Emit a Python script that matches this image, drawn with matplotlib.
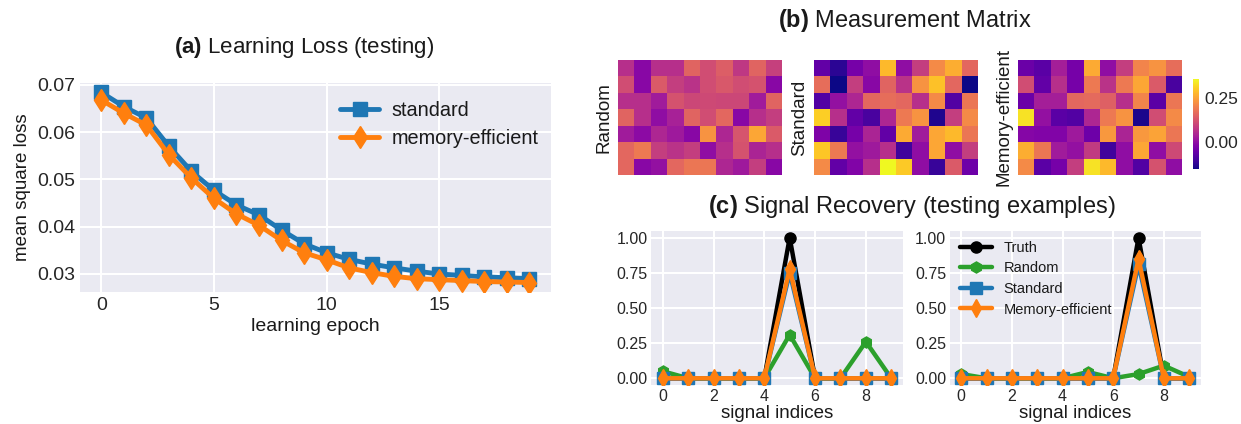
import numpy as np
import matplotlib
matplotlib.use("Agg")
import matplotlib.pyplot as plt

# ---------------------------------------------------------------- data
epochs = list(range(20))
loss_standard = [0.0684, 0.0654, 0.0630, 0.0570, 0.0517, 0.0477, 0.0446, 0.0425,
                 0.0393, 0.0364, 0.0345, 0.0331, 0.0321, 0.0313, 0.0306, 0.0300,
                 0.0297, 0.0294, 0.0292, 0.0290]
loss_memory = [0.0668, 0.0640, 0.0615, 0.0552, 0.0503, 0.0460, 0.0427, 0.0403,
               0.0371, 0.0345, 0.0330, 0.0313, 0.0303, 0.0295, 0.0290, 0.0288,
               0.0286, 0.0284, 0.0283, 0.0282]

matrix_random = [
    [0.060, -0.012, 0.060, 0.060, 0.152, 0.111, 0.141, 0.075, 0.152, 0.090],
    [0.111, -0.012, 0.136, 0.085, 0.065, 0.111, 0.131, 0.111, 0.121, -0.012],
    [0.060, 0.060, 0.024, 0.121, 0.101, 0.106, 0.101, 0.101, 0.024, 0.152],
    [0.152, 0.060, -0.002, 0.034, 0.152, 0.111, 0.157, -0.012, 0.060, 0.085],
    [0.024, -0.007, 0.044, 0.019, -0.012, 0.228, 0.044, 0.126, 0.254, 0.136],
    [0.157, 0.187, 0.085, 0.065, 0.085, -0.002, 0.060, 0.121, 0.039, 0.060],
    [0.157, -0.012, 0.003, 0.157, 0.182, 0.182, 0.044, 0.019, 0.085, -0.012],
]
matrix_standard = [
    [-0.063, -0.129, -0.037, -0.002, 0.279, -0.002, 0.085, 0.213, 0.264, 0.157],
    [0.167, -0.155, 0.085, -0.012, 0.152, 0.065, 0.228, 0.290, 0.157, -0.155],
    [-0.083, 0.003, 0.044, 0.157, 0.167, 0.157, 0.060, 0.213, -0.083, 0.182],
    [0.305, 0.060, -0.063, -0.094, 0.044, 0.187, 0.228, -0.140, 0.085, 0.213],
    [-0.027, -0.114, -0.037, 0.039, -0.063, 0.259, 0.024, 0.254, 0.279, 0.182],
    [0.295, 0.187, 0.003, 0.019, 0.060, -0.104, -0.002, 0.254, -0.002, 0.085],
    [0.213, -0.063, -0.022, 0.060, 0.356, 0.300, -0.002, -0.114, 0.136, -0.048],
]
matrix_memory = [
    [-0.053, -0.073, 0.029, -0.037, 0.259, -0.002, 0.085, 0.203, 0.228, 0.167],
    [0.111, -0.063, 0.060, -0.037, 0.187, 0.065, 0.187, 0.254, 0.136, -0.094],
    [-0.053, 0.029, 0.029, 0.157, 0.162, 0.146, 0.060, 0.203, -0.073, 0.182],
    [0.330, 0.003, -0.073, -0.083, 0.044, 0.187, 0.228, -0.145, 0.111, 0.213],
    [-0.017, -0.022, -0.022, 0.019, -0.048, 0.233, 0.039, 0.233, 0.249, 0.182],
    [0.264, 0.182, 0.024, 0.003, 0.080, -0.104, -0.002, 0.254, -0.002, 0.106],
    [0.213, -0.073, -0.037, 0.085, 0.330, 0.279, -0.002, -0.083, 0.121, -0.002],
]
matrix_names = ["Random", "Standard", "Memory-efficient"]

signal_idx = list(range(10))
ex1_truth = [0, 0, 0, 0, 0, 1.0, 0, 0, 0, 0]
ex1_random = [0.05, 0.0, 0.0, 0.0, 0.0, 0.31, 0.0, 0.0, 0.26, 0.0]
ex1_standard = [0, 0, 0, 0, 0, 0.75, 0, 0, 0, 0]
ex1_memory = [0, 0, 0, 0, 0, 0.78, 0, 0, 0, 0]
ex2_truth = [0, 0, 0, 0, 0, 0, 0, 1.0, 0, 0]
ex2_random = [0.03, 0.0, 0.0, 0.0, 0.0, 0.045, 0.0, 0.03, 0.09, 0.01]
ex2_standard = [0, 0, 0, 0, 0, 0, 0, 0.81, 0, 0]
ex2_memory = [0, 0, 0, 0, 0, 0, 0, 0.85, 0, 0]

# ---------------------------------------------------------------- style
plt.style.use("seaborn-v0_8-darkgrid")
plt.rcParams["font.family"] = ["Liberation Sans", "DejaVu Sans"]
plt.rcParams["mathtext.fontset"] = "custom"
plt.rcParams["mathtext.rm"] = "Liberation Sans"
plt.rcParams["mathtext.bf"] = "Liberation Sans:bold"
plt.rcParams["text.color"] = "#1a1a1a"
plt.rcParams["axes.labelcolor"] = "#1a1a1a"
plt.rcParams["xtick.color"] = "#262626"
plt.rcParams["ytick.color"] = "#262626"
plt.rcParams["grid.linewidth"] = 1.5

BLUE, ORANGE, GREEN = "#1f77b4", "#ff7f0e", "#2ca02c"

W, H = 1241, 424
fig = plt.figure(figsize=(W / 100, H / 100), dpi=100)


def axes_px(left, top, right, bottom):
    return fig.add_axes([left / W, 1 - bottom / H, (right - left) / W, (bottom - top) / H])


# ---------------------------------------------------------------- (a) loss curves
ax = axes_px(80, 83, 550.6, 292)
ax.plot(epochs, loss_standard, color=BLUE, lw=3.5, marker="s", ms=10.5, label="standard")
ax.plot(epochs, loss_memory, color=ORANGE, lw=3.5, marker="d", ms=11.5, label="memory-efficient")
ax.set_xticks([0, 5, 10, 15])
ax.set_yticks([0.03, 0.04, 0.05, 0.06, 0.07])
ax.tick_params(labelsize=14)
ax.set_xlabel("learning epoch", fontsize=14, labelpad=3)
ax.set_ylabel("mean square loss", fontsize=13.5)
ax.legend(loc="upper right", fontsize=14.3, frameon=False, handlelength=2.0,
          handletextpad=0.6, bbox_to_anchor=(1.012, 1.0), labelspacing=0.45)
fig.text(304 / W, 1 - 47 / H, r"$\bf{(a)}$ Learning Loss (testing)", fontsize=16,
         ha="center", va="center")

# ---------------------------------------------------------------- (b) measurement matrices
all_vals = np.array([matrix_random, matrix_standard, matrix_memory])
vmin, vmax = all_vals.min(), all_vals.max()
heat_boxes = [(617.7, 781.7), (814.0, 977.7), (1018.3, 1181.7)]
im = None
for (l, r), mat, name in zip(heat_boxes, [matrix_random, matrix_standard, matrix_memory], matrix_names):
    hx = axes_px(l, 60, r, 175)
    im = hx.imshow(np.array(mat), cmap="plasma", vmin=vmin, vmax=vmax,
                   aspect="auto", interpolation="nearest")
    hx.grid(False)
    hx.set_xticks([])
    hx.set_yticks([])
    for s in hx.spines.values():
        s.set_visible(False)
    hx.set_ylabel(name, fontsize=13.5, labelpad=4)

cax = axes_px(1192.7, 79, 1199, 169)
cb = fig.colorbar(im, cax=cax, ticks=[0.0, 0.25], format="%.2f")
cb.outline.set_visible(False)
cax.tick_params(labelsize=12.5, length=0, pad=4)
fig.text(905 / W, 1 - 20 / H, r"$\bf{(b)}$ Measurement Matrix", fontsize=17,
         ha="center", va="center")

# ---------------------------------------------------------------- (c) signal recovery
examples = [
    (ex1_truth, ex1_random, ex1_standard, ex1_memory),
    (ex2_truth, ex2_random, ex2_standard, ex2_memory),
]
rec_boxes = [(651.3, 902.7), (949.8, 1200.6)]
for k, ((l, r), (tr, rd, st, me)) in enumerate(zip(rec_boxes, examples)):
    cx = axes_px(l, 230.7, r, 385.3)
    cx.plot(signal_idx, tr, color="black", lw=3.2, marker="o", ms=8, label="Truth")
    cx.plot(signal_idx, rd, color=GREEN, lw=3.2, marker="h", ms=8, label="Random")
    cx.plot(signal_idx, st, color=BLUE, lw=3.2, marker="s", ms=8, label="Standard")
    cx.plot(signal_idx, me, color=ORANGE, lw=3.2, marker="d", ms=9, label="Memory-efficient")
    cx.set_xticks([0, 2, 4, 6, 8])
    cx.set_yticks([0.0, 0.25, 0.5, 0.75, 1.0])
    cx.set_yticklabels(["0.00", "0.25", "0.50", "0.75", "1.00"])
    cx.tick_params(labelsize=11.5, pad=2.5)
    cx.set_xlabel("signal indices", fontsize=13.5, labelpad=1)
    if k == 1:
        cx.legend(loc="upper left", fontsize=10.5, frameon=False, handlelength=2.2,
                  borderaxespad=0.3, labelspacing=0.45)
fig.text(912 / W, 1 - 207 / H, r"$\bf{(c)}$ Signal Recovery (testing examples)", fontsize=17,
         ha="center", va="center")

fig.savefig("out.png", dpi=100)
